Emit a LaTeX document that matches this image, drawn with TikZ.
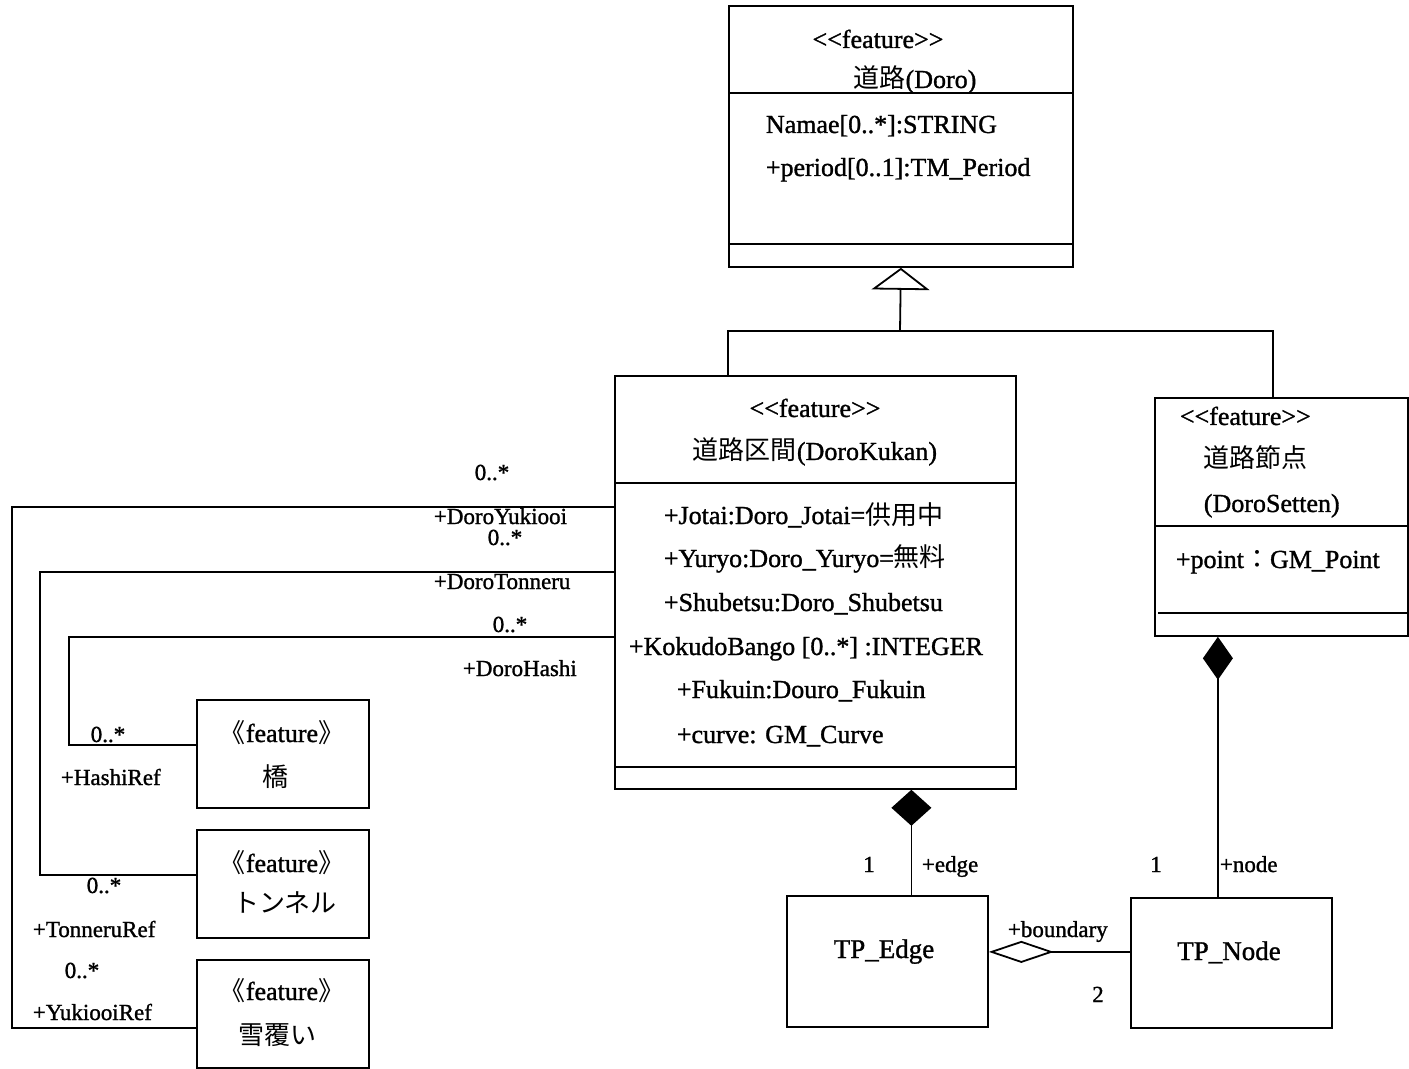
\documentclass[tikz,border=0pt]{standalone}
\usepackage{fontspec}
\setmainfont{Liberation Serif}[FakeBold=1.2]
\newfontfamily\jp{Noto Sans CJK JP}
\usetikzlibrary{arrows.meta}

\begin{document}
\begin{tikzpicture}[
    x=0.5pt, y=-0.5pt, line width=0.9pt,
    umlbox/.style={draw, inner sep=0pt, anchor=north west},
    txt/.style={font=\fontsize{13pt}{15pt}\selectfont, inner sep=0pt, anchor=base west},
    ctxt/.style={txt, anchor=base},
    cjk/.style={font=\fontsize{13pt}{15pt}\selectfont\jp, inner sep=0pt, anchor=center},
    tptxt/.style={font=\fontsize{13.5pt}{15pt}\selectfont, inner sep=0pt, anchor=base},
    lbl/.style={font=\fontsize{11.5pt}{13pt}\selectfont, inner sep=0pt, anchor=base west},
    clbl/.style={lbl, anchor=base},
    generalize/.style={-{Triangle[open, length=11pt, width=29pt]}},
    compose/.style 2 args={{Diamond[length=#1, width=#2]}-},
    aggregate/.style={{Diamond[open, length=32.5pt, width=11pt]}-}
]
\useasboundingbox (0,0) rectangle (1409,1069);

% Classes
\node[umlbox, minimum width=172pt, minimum height=130.5pt] (doro) at (728,5) {};
\node[umlbox, minimum width=200.5pt, minimum height=206.5pt] (kukan) at (614,375) {};
\node[umlbox, minimum width=126.5pt, minimum height=119pt] (setten) at (1154,397) {};
\node[umlbox, minimum width=86pt, minimum height=54pt] (hashi) at (196,699) {};
\node[umlbox, minimum width=86pt, minimum height=54pt] (tonneru) at (196,829) {};
\node[umlbox, minimum width=86pt, minimum height=54pt] (yukiooi) at (196,959) {};
\node[umlbox, minimum width=100.5pt, minimum height=65.5pt] (tpedge) at (786,895) {};
\node[umlbox, minimum width=100.5pt, minimum height=65pt] (tpnode) at (1130,897) {};

% Compartments
\draw ([yshift=-44pt]doro.north west) -- ([yshift=-44pt]doro.north east);
\draw ([yshift=-119.5pt]doro.north west) -- ([yshift=-119.5pt]doro.north east);
\draw ([yshift=-54pt]kukan.north west) -- ([yshift=-54pt]kukan.north east);
\draw ([yshift=-196pt]kukan.north west) -- ([yshift=-196pt]kukan.north east);
\draw ([yshift=-64.5pt]setten.north west) -- ([yshift=-64.5pt]setten.north east);
\draw ([xshift=2pt, yshift=-108pt]setten.north west) -- ([yshift=-108pt]setten.north east);

% Texts
\node[ctxt] (doroSt) at (878,48) {<\kern0pt<feature>\kern0pt>};
\node[ctxt] (doroName) at (915,88) {{\jp 道路}(Doro)};
\node[txt] (doroA1) at (765,133) {Namae[0..*]:STRING};
\node[txt] (doroA2) at (765,176) {+period[0..1]:TM\_Period};

\node[ctxt] (kukanSt) at (815,417) {<\kern0pt<feature>\kern0pt>};
\node[ctxt] (kukanName) at (815,460) {{\jp 道路区間}(DoroKukan)};
\node[txt] (kukanA1) at (663,524) {+Jotai:Doro\_Jotai={\jp 供用中}};
\node[txt] (kukanA2) at (663,567) {+Yuryo:Doro\_Yuryo={\jp 無料}};
\node[txt] (kukanA3) at (663,611) {+Shubetsu:Doro\_Shubetsu};
\node[txt] (kukanA4) at (628,655) {+KokudoBango [0..*] :INTEGER};
\node[txt] (kukanA5) at (676,698) {+Fukuin:Douro\_Fukuin};
\node[txt] (kukanA6) at (676,743) {+curve: GM\_Curve};

\node[txt] (settenSt) at (1179,425) {<\kern0pt<feature>\kern0pt>};
\node[txt] (settenName1) at (1203,468) {{\jp 道路節点}};
\node[txt] (settenName2) at (1203,512) {(DoroSetten)};
\node[txt] (settenA1) at (1175,568) {+point{\jp ：}GM\_Point};

\node[ctxt] (hashiSt) at (282,742) {{\jp 《}feature{\jp 》}};
\node[cjk] (hashiName) at (275,777) {橋};
\node[ctxt] (tonneruSt) at (282,872) {{\jp 《}feature{\jp 》}};
\node[cjk] (tonneruName) at (285,903) {トンネル};
\node[ctxt] (yukiooiSt) at (282,1000) {{\jp 《}feature{\jp 》}};
\node[cjk] (yukiooiName) at (277,1035) {雪覆い};

\node[tptxt] (tpedgeName) at (884,958) {TP\_Edge};
\node[tptxt] (tpnodeName) at (1229,960) {TP\_Node};

% Generalization
\coordinate (gen) at (900,331);
\draw[generalize] (gen) -- (doro.south);
\draw ([xshift=57pt]kukan.north west) |- (gen) -| ([xshift=59.5pt]setten.north west);

% Composition and aggregation
\coordinate (e1) at ([xshift=12pt]tpedge.north);
\draw[compose={18pt}{20pt}] (e1 |- kukan.south) -- (e1);
\coordinate (n1) at ([xshift=-6.75pt]tpnode.north);
\draw[compose={21.5pt}{15pt}] (n1 |- setten.south) -- (n1);
\coordinate (b1) at ([yshift=5.5pt]tpnode.west);
\draw[aggregate] (b1 -| tpedge.east) -- (b1);

% Associations
\coordinate (yk) at (12,0);
\coordinate (tn) at (40,0);
\coordinate (hs) at (69,0);
\coordinate (k1) at ([yshift=37.75pt]kukan.west);
\coordinate (k2) at ([yshift=5.25pt]kukan.west);
\coordinate (k3) at ([yshift=-27.25pt]kukan.west);
\draw (k1) -- (k1 -| yk) |- ([yshift=-7pt]yukiooi.west);
\draw (k2) -- (k2 -| tn) |- ([yshift=4.5pt]tonneru.west);
\draw (k3) -- (k3 -| hs) |- ([yshift=4.5pt]hashi.west);

% Roles and multiplicities
\node[clbl] (m1) at (492,480) {0..*};
\node[lbl] (r1) at (433,524) {+DoroYukiooi};
\node[clbl] (m2) at (505,545) {0..*};
\node[lbl] (r2) at (433,589) {+DoroTonneru};
\node[clbl] (m3) at (510,632) {0..*};
\node[lbl] (r3) at (462,676) {+DoroHashi};
\node[clbl] (m4) at (108,742) {0..*};
\node[lbl] (r4) at (60,785) {+HashiRef};
\node[clbl] (m5) at (104,893) {0..*};
\node[lbl] (r5) at (32,937) {+TonneruRef};
\node[clbl] (m6) at (82,978) {0..*};
\node[lbl] (r6) at (32,1020) {+YukiooiRef};
\node[clbl] (m7) at (869,872) {1};
\node[lbl] (r7) at (921,872) {+edge};
\node[clbl] (m8) at (1156,872) {1};
\node[lbl] (r8) at (1219,872) {+node};
\node[lbl] (r9) at (1007,937) {+boundary};
\node[clbl] (m9) at (1098,1002) {2};

\end{tikzpicture}
\end{document}
